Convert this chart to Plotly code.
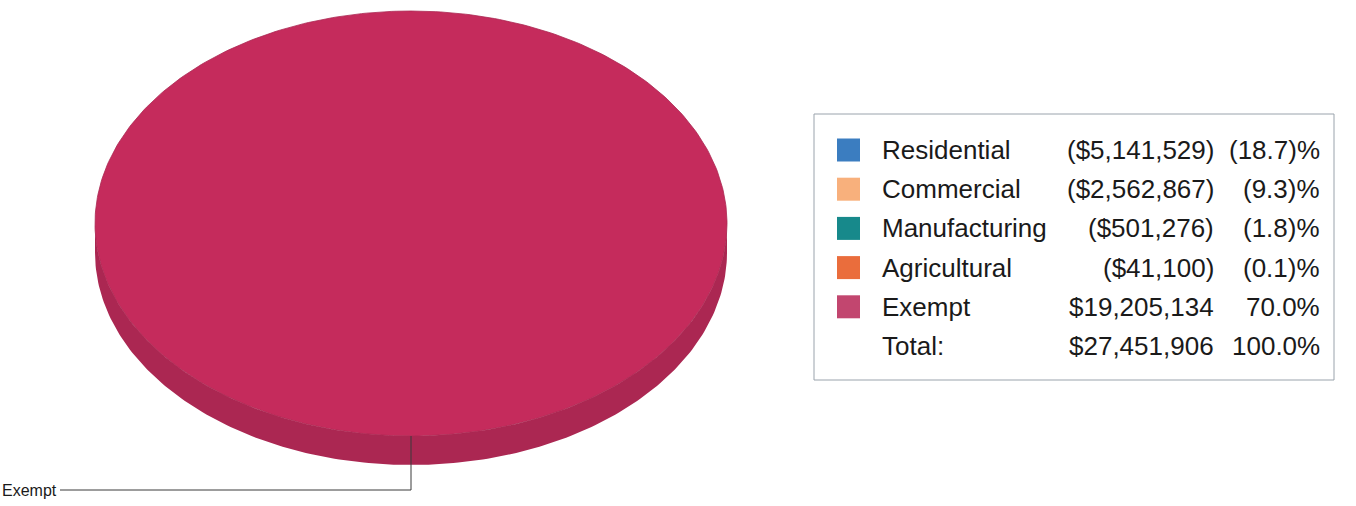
import numpy as np
import plotly.graph_objects as go

# ---- data -------------------------------------------------------------
categories = ["Residential", "Commercial", "Manufacturing", "Agricultural", "Exempt"]
amounts = [-5141529, -2562867, -501276, -41100, 19205134]
total_label = "Total:"
total_amount = 27451906

swatch_colors = ["#3b7dc0", "#f8b07c", "#17898b", "#ea6d3c", "#c2466f"]
face_colors = ["#3b7dc0", "#f8b07c", "#17898b", "#ea6d3c", "#c52b5c"]
side_colors = ["#2f66a0", "#d9935f", "#12706f", "#c75a2f", "#ab2752"]

# ---- page / pie geometry (pixel space) -----------------------------
W, H = 1356, 506
CX, CY, RX, RY, DEPTH = 411, 223.5, 316, 212.5, 29
LEADER_Y, LEADER_X_END = 490, 60
FONT = "Liberation Sans, Arial, sans-serif"


def money(v):
    s = f"${abs(v):,.0f}"
    return f"({s})" if v < 0 else s


def pct(v):
    p = abs(v) / total_amount * 100
    return f"({p:.1f})%" if v < 0 else f"{p:.1f}%"


fig = go.Figure()

# pie slices: only positive amounts take up area
pos = [max(a, 0) for a in amounts]
pos_sum = sum(pos)
t_start = -np.pi / 2
slices = []
for i, v in enumerate(pos):
    if v <= 0:
        continue
    span = 2 * np.pi * v / pos_sum
    slices.append((i, t_start, t_start + span))
    t_start += span


def ell(t, dy=0.0):
    return CX + RX * np.cos(t), CY + RY * np.sin(t) + dy


# side walls (front half only, sin t >= 0)
for i, a0, a1 in slices:
    for k in range(-1, 2):
        lo = max(a0, 2 * np.pi * k)
        hi = min(a1, 2 * np.pi * k + np.pi)
        if hi <= lo:
            continue
        t = np.linspace(lo, hi, 200)
        xt, yt = ell(t)
        xb, yb = ell(t[::-1], DEPTH)
        fig.add_trace(go.Scatter(
            x=np.concatenate([xt, xb]), y=np.concatenate([yt, yb]),
            fill="toself", fillcolor=side_colors[i], mode="lines",
            line=dict(width=0, color=side_colors[i]), hoverinfo="skip",
            showlegend=False))

# top faces
for i, a0, a1 in slices:
    t = np.linspace(a0, a1, 400)
    xs, ys = ell(t)
    if a1 - a0 < 2 * np.pi - 1e-9:
        xs = np.concatenate([[CX], xs, [CX]])
        ys = np.concatenate([[CY], ys, [CY]])
    fig.add_trace(go.Scatter(
        x=xs, y=ys, fill="toself", fillcolor=face_colors[i], mode="lines",
        line=dict(width=0.8, color=side_colors[i]), hoverinfo="skip",
        name=categories[i], showlegend=False))

# leader lines and slice labels
for i, a0, a1 in slices:
    tm = (a0 + a1) / 2
    px, py = ell(tm)
    fig.add_trace(go.Scatter(
        x=[px, px, LEADER_X_END], y=[py, LEADER_Y, LEADER_Y], mode="lines",
        line=dict(color="#3a3a3a", width=1), hoverinfo="skip", showlegend=False))
    fig.add_annotation(x=LEADER_X_END - 1, y=LEADER_Y, text=categories[i],
                       xanchor="right", yanchor="middle", showarrow=False,
                       font=dict(family=FONT, size=16, color="#1a1a1a"))

# ---- legend table -----------------------------------------------------
BOX = dict(x0=814, y0=114, x1=1334, y1=380)
fig.add_shape(type="rect", xref="x", yref="y", **BOX,
              line=dict(color="#9aa3ac", width=1), fillcolor="rgba(0,0,0,0)")

ROW0, ROW_STEP = 150, 39.2
NAME_X, AMT_X, PCT_X = 880, 1216, 1322
SW_X0, SW_SIZE = 837, 23
txt = dict(family=FONT, size=26, color="#1a1a1a")

rows = list(zip(categories, amounts, swatch_colors)) + [(total_label, total_amount, None)]
for r, (name, val, col) in enumerate(rows):
    y = ROW0 + r * ROW_STEP
    if col is not None:
        fig.add_shape(type="rect", xref="x", yref="y",
                      x0=SW_X0, x1=SW_X0 + SW_SIZE,
                      y0=y - SW_SIZE / 2, y1=y + SW_SIZE / 2,
                      fillcolor=col, line=dict(width=0))
    fig.add_annotation(x=NAME_X, y=y, text=name, xanchor="left", yanchor="middle",
                       showarrow=False, font=txt)
    fig.add_annotation(x=AMT_X, y=y, text=money(val), xanchor="right",
                       yanchor="middle", showarrow=False, font=txt)
    fig.add_annotation(x=PCT_X, y=y, text=pct(val), xanchor="right",
                       yanchor="middle", showarrow=False, font=txt)

fig.update_layout(
    width=W, height=H, margin=dict(l=0, r=0, t=0, b=0),
    paper_bgcolor="white", plot_bgcolor="white",
    xaxis=dict(range=[0, W], visible=False, fixedrange=True),
    yaxis=dict(range=[H, 0], visible=False, fixedrange=True),
    showlegend=False,
)

fig.write_html("out.html")
